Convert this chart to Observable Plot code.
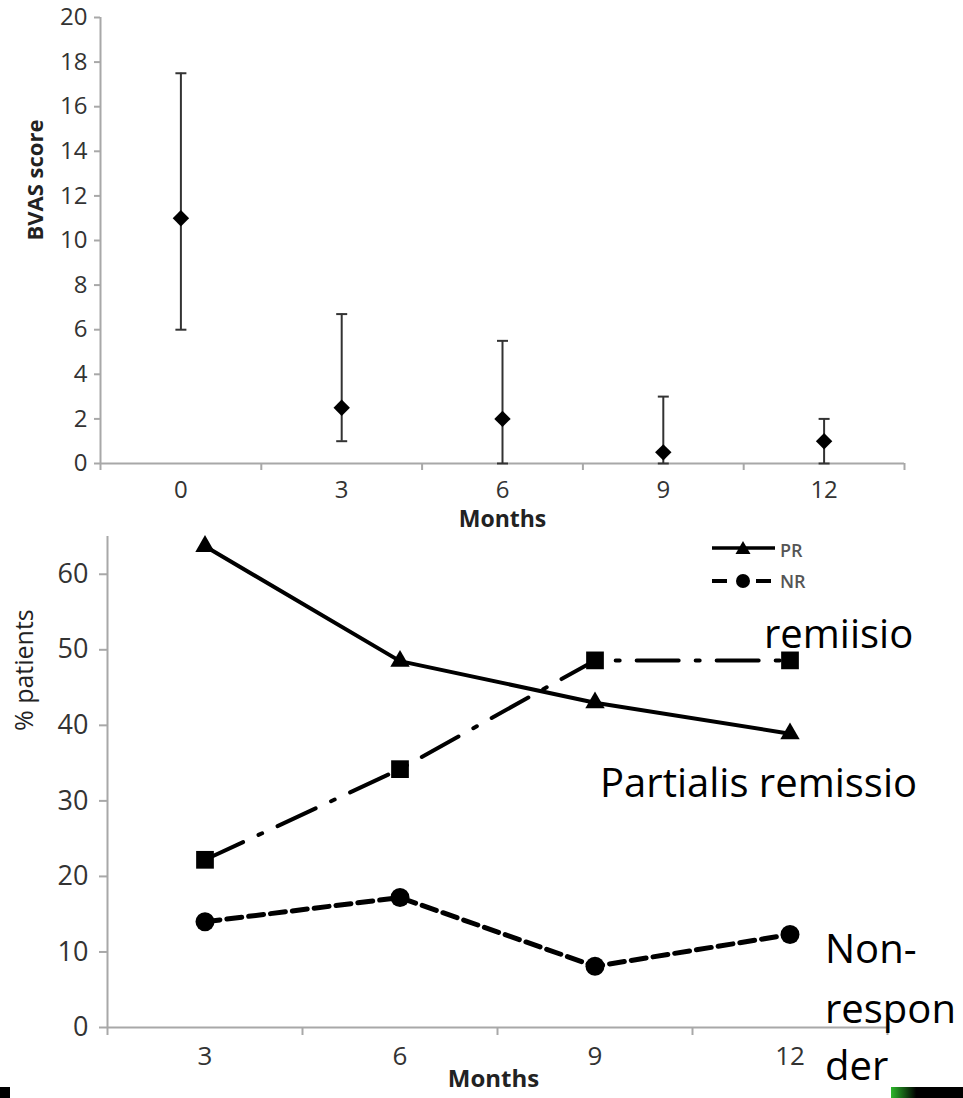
<!DOCTYPE html>
<html>
<head>
<meta charset="utf-8">
<script src="https://cdn.jsdelivr.net/npm/d3@7"></script>
<script src="https://cdn.jsdelivr.net/npm/@observablehq/plot@0.6"></script>
<style>
  html, body { margin: 0; padding: 0; background: #fff; }
  #wrap { position: relative; width: 963px; height: 1098px; overflow: hidden; font-family: "Open Sans", sans-serif; }
  #top, #bottom { position: absolute; left: 0; }
  #top { top: 0; }
  #bottom { top: 500px; }
  #overlay { position: absolute; left: 0; top: 0; pointer-events: none; }
</style>
</head>
<body>
<div id="wrap">
  <div id="bottom"></div>
  <div id="top"></div>
  <svg id="overlay" width="963" height="1098" font-family="Open Sans, sans-serif">
    <defs>
      <linearGradient id="gbar" x1="0" x2="1" y1="0" y2="0">
        <stop offset="0" stop-color="#2db82a"/>
        <stop offset="0.35" stop-color="#000"/>
        <stop offset="1" stop-color="#000"/>
      </linearGradient>
    </defs>
    <!-- legend -->
    <g id="legend">
      <line x1="712" x2="775" y1="548" y2="548" stroke="#000" stroke-width="3.5"/>
      <path d="M743,541 L750.5,554 L735.5,554 Z" fill="#000"/>
      <text x="780" y="557" font-size="18" font-weight="600" fill="#555">PR</text>
      <line x1="712" x2="727" y1="581" y2="581" stroke="#000" stroke-width="4"/>
      <line x1="756" x2="771" y1="581" y2="581" stroke="#000" stroke-width="4"/>
      <circle cx="743" cy="581" r="7" fill="#000"/>
      <text x="780" y="588" font-size="18" font-weight="600" fill="#555">NR</text>
    </g>
    <!-- overlay annotations -->
    <g font-size="40" fill="#000">
      <text x="764" y="648">remiisio</text>
      <text x="600" y="797">Partialis remissio</text>
      <text x="825" y="963">Non-</text>
      <text x="825" y="1023">respon</text>
      <text x="825" y="1080">der</text>
    </g>
    <rect x="0" y="1087" width="10" height="11" fill="#000"/>
    <rect x="891" y="1087" width="72" height="11" fill="url(#gbar)"/>
  </svg>
</div>
<script>
// ---------- Top chart data (BVAS score) ----------
const bvasMonths = [0, 3, 6, 9, 12];
const bvasMean   = [11, 2.5, 2, 0.5, 1];
const bvasLow    = [6, 1, 0, 0, 0];
const bvasHigh   = [17.5, 6.7, 5.5, 3, 2];
const bvasTicks  = [0, 2, 4, 6, 8, 10, 12, 14, 16, 18, 20];

// ---------- Bottom chart data (% patients) ----------
const respMonths = [3, 6, 9, 12];
const prValues   = [63.7, 48.5, 43, 38.9];   // partial remission (triangles, solid)
const crValues   = [22.2, 34.2, 48.6, 48.6]; // remission (squares, dash-dot)
const nrValues   = [14, 17.2, 8.1, 12.3];    // non-responder (circles, dashed)
const pctTicks   = [0, 10, 20, 30, 40, 50, 60];

const axisGrey = "#a8a8a8";
const labelColor = "#333";
const capSymbol = { draw(ctx) { ctx.moveTo(-5.5, 0); ctx.lineTo(5.5, 0); } };

// ---------- Top chart ----------
const topData = bvasMonths.map((m, i) => ({ month: m, mean: bvasMean[i], lo: bvasLow[i], hi: bvasHigh[i] }));
const topStep = bvasMonths[1] - bvasMonths[0];
const topBounds = bvasMonths.map(m => m - topStep / 2).concat([bvasMonths[bvasMonths.length - 1] + topStep / 2]);

const topPlot = Plot.plot({
  width: 963, height: 545,
  marginLeft: 100, marginRight: 59, marginTop: 17, marginBottom: 82,
  style: { background: "transparent", overflow: "visible", fontFamily: "Open Sans, sans-serif" },
  x: { domain: [topBounds[0], topBounds[topBounds.length - 1]] },
  y: { domain: [0, 20] },
  marks: [
    Plot.ruleX([topBounds[0]], { stroke: axisGrey, strokeWidth: 2 }),
    Plot.ruleY([0], { stroke: axisGrey, strokeWidth: 2 }),
    Plot.axisY({ ticks: bvasTicks, tickSize: 6, tickPadding: 7, stroke: axisGrey, strokeWidth: 2, fill: labelColor, fontSize: 24, label: null }),
    Plot.axisX({ ticks: topBounds, tickSize: 7, tickFormat: () => "", stroke: axisGrey, strokeWidth: 2, label: null }),
    Plot.axisX({ ticks: bvasMonths, tickSize: 0, tickPadding: 17, fill: labelColor, fontSize: 24, label: null, tickFormat: d => String(d) }),
    Plot.ruleX(topData, { x: "month", y1: "lo", y2: "hi", stroke: "#333", strokeWidth: 2 }),
    Plot.dot(topData, { x: "month", y: "lo", symbol: capSymbol, stroke: "#333", strokeWidth: 2 }),
    Plot.dot(topData, { x: "month", y: "hi", symbol: capSymbol, stroke: "#333", strokeWidth: 2 }),
    Plot.dot(topData, { x: "month", y: "mean", symbol: "diamond2", r: 7.4, fill: "#000", stroke: "none" }),
    Plot.text(["BVAS score"], { text: d => d, frameAnchor: "left", dx: -65, rotate: -90, fontWeight: "bold", fontSize: 22, fill: "#222" }),
    Plot.text(["Months"], { text: d => d, frameAnchor: "bottom", dy: 63, fontWeight: "bold", fontSize: 23, fill: "#222" })
  ]
});
document.getElementById("top").appendChild(topPlot);

// ---------- Bottom chart ----------
const respStep = respMonths[1] - respMonths[0];
const botBounds = respMonths.map(m => m - respStep / 2).concat([respMonths[respMonths.length - 1] + respStep / 2]);
const prRows = respMonths.map((m, i) => ({ month: m, value: prValues[i] }));
const crRows = respMonths.map((m, i) => ({ month: m, value: crValues[i] }));
const nrRows = respMonths.map((m, i) => ({ month: m, value: nrValues[i] }));

const bottomPlot = Plot.plot({
  width: 963, height: 598,
  marginLeft: 107, marginRight: 76, marginTop: 36, marginBottom: 71,
  style: { background: "transparent", overflow: "visible", fontFamily: "Open Sans, sans-serif" },
  x: { domain: [botBounds[0], botBounds[botBounds.length - 1]] },
  y: { domain: [0, 65] },
  marks: [
    Plot.ruleX([botBounds[0]], { stroke: axisGrey, strokeWidth: 2 }),
    Plot.ruleY([0], { stroke: axisGrey, strokeWidth: 2 }),
    Plot.axisY({ ticks: pctTicks, tickSize: 8, tickPadding: 11, stroke: axisGrey, strokeWidth: 2, fill: labelColor, fontSize: 27, label: null }),
    Plot.axisX({ ticks: botBounds, tickSize: 8, tickFormat: () => "", stroke: axisGrey, strokeWidth: 2, label: null }),
    Plot.axisX({ ticks: respMonths, tickSize: 0, tickPadding: 19, fill: labelColor, fontSize: 26, label: null, tickFormat: d => String(d) }),
    Plot.line(crRows, { x: "month", y: "value", stroke: "#000", strokeWidth: 4, strokeDasharray: "42,17,4,17" }),
    Plot.line(nrRows, { x: "month", y: "value", stroke: "#000", strokeWidth: 5, strokeDasharray: "15,7" }),
    Plot.line(prRows, { x: "month", y: "value", stroke: "#000", strokeWidth: 4 }),
    Plot.dot(crRows, { x: "month", y: "value", symbol: "square", r: 10, fill: "#000" }),
    Plot.dot(nrRows, { x: "month", y: "value", symbol: "circle", r: 9.5, fill: "#000" }),
    Plot.dot(prRows, { x: "month", y: "value", symbol: "triangle", r: 7.2, fill: "#000" }),
    Plot.text(["% patients"], { text: d => d, frameAnchor: "left", dx: -83, dy: -51, rotate: -90, fontSize: 25, fill: "#222" }),
    Plot.text(["Months"], { text: d => d, frameAnchor: "bottom", dx: -4, dy: 59, fontWeight: "bold", fontSize: 24, fill: "#222" })
  ]
});
document.getElementById("bottom").appendChild(bottomPlot);
</script>
</body>
</html>
